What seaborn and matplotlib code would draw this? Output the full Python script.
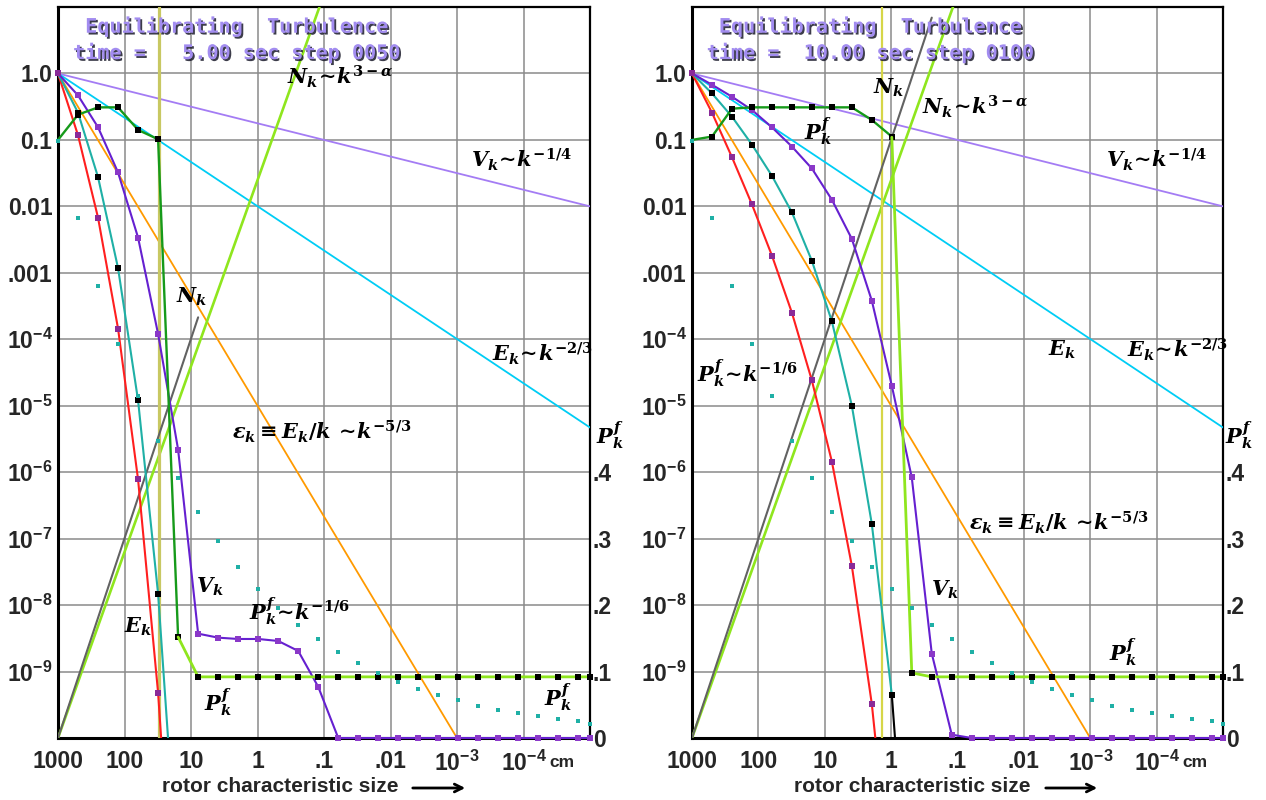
import numpy as np
import matplotlib
matplotlib.use("Agg")
import matplotlib.pyplot as plt
import matplotlib.patheffects as pe
import seaborn as sns

sns.set_style("white")
plt.rcParams["font.family"] = ["Liberation Sans", "DejaVu Sans"]
plt.rcParams["mathtext.fontset"] = "custom"
plt.rcParams["mathtext.it"] = "DejaVu Serif:italic:bold"
plt.rcParams["mathtext.rm"] = "DejaVu Serif:bold"
plt.rcParams["mathtext.bf"] = "Liberation Sans:bold"

# ---------------- data ----------------
# rotor sizes (cm): halving each step, last entry is the right edge (1e-5 cm)
sizes = [1000, 500, 250, 125, 62.5, 31.25, 15.625, 7.8125, 3.906, 1.953,
         0.9766, 0.4883, 0.2441, 0.1221, 0.06104, 0.03052, 0.01526, 0.00763,
         0.003815, 0.001907, 0.000954, 0.000477, 0.000238, 0.000119,
         5.96e-5, 2.98e-5, 1.49e-5, 1e-5]

# P_k^f ~ k^-1/6 dots (right linear axis), same in both frames
pdots_lin = [0.898, 0.783, 0.680, 0.593, 0.515, 0.447, 0.391, 0.340, 0.296,
             0.257, 0.224, 0.196, 0.170, 0.149, 0.129, 0.113, 0.098, 0.084,
             0.074, 0.065, 0.057, 0.048, 0.042, 0.038, 0.033, 0.029, 0.026,
             0.021]

# ---- frame 1 : t = 5 s, step 50 (log10 of values on the left axis) ----
E5_log = [0, -0.93, -2.17, -3.84, -6.11, -9.32, -13.8]
T5_log = [0, -0.59, -1.56, -2.93, -4.92, -7.83, -12.2]
V5_log = [0, -0.33, -0.81, -1.49, -2.47, -3.92, -5.66, -8.43, -8.49, -8.51,
          -8.51, -8.54, -8.69, -9.23, -10, -10, -10, -10, -10, -10, -10, -10,
          -10, -10, -10, -10, -10, -10]
G5_log = [-1.0, -0.62, -0.51, -0.51, -0.85, -0.99, -8.48]
L5_lin = [0.152, 0.092, 0.092, 0.092, 0.092, 0.092, 0.092, 0.092, 0.092,
          0.092, 0.092, 0.092, 0.092, 0.092, 0.092, 0.092, 0.092, 0.092,
          0.092, 0.092, 0.092, 0.092]
L5_start = 6
N5_x = [1000, 7.8125]
N5_log = [-10, -3.67]
vline5 = 30.2

# ---- frame 2 : t = 10 s, step 100 ----
E10_log = [0, -0.59, -1.26, -1.97, -2.74, -3.60, -4.62, -5.84, -7.41, -9.49,
           -12.4]
T10_log = [0, -0.30, -0.65, -1.07, -1.54, -2.09, -2.82, -3.73, -5.0, -6.78,
           -9.35, -13.4]
V10_log = [0, -0.17, -0.35, -0.55, -0.81, -1.10, -1.43, -1.90, -2.49, -3.42,
           -4.70, -6.08, -8.73, -9.95, -10, -10, -10, -10, -10, -10, -10, -10,
           -10, -10, -10, -10, -10, -10]
G10_log = [-1.0, -0.95, -0.53, -0.51, -0.51, -0.51, -0.51, -0.51, -0.51,
           -0.70, -0.95]
L10_lin = [0.904, 0.098, 0.092, 0.092, 0.092, 0.092, 0.092, 0.092, 0.092,
           0.092, 0.092, 0.092, 0.092, 0.092, 0.092, 0.092, 0.092, 0.092]
L10_start = 10
N10_x = [1000, 0.2441]
N10_log = [-10, 0.84]
vline10 = 1.38

# reference power laws (end points)
Vref_x, Vref_y = [1000, 1e-5], [1.0, 0.01]          # V_k ~ k^-1/4
Eref_x, Eref_y = [1000, 1e-5], [1.0, 4.7e-6]        # E_k ~ k^-2/3
eref_x, eref_y = [1000, 1e-3], [1.0, 1e-10]         # eps_k ~ k^-5/3
Nref_x, Nref_y = [1000, 0.117], [1e-10, 10.0]       # N_k ~ k^(3-alpha)

xtick_vals = [1000, 100, 10, 1, 0.1, 0.01, 1e-3, 1e-4, 1e-5]
xtick_labels = ["1000", "100", "10", "1", ".1", ".01",
                r"$\mathbf{10^{-3}}$", r"$\mathbf{10^{-4}}$", ""]
ytick_vals = [10, 1, 0.1, 0.01, 1e-3, 1e-4, 1e-5, 1e-6, 1e-7, 1e-8, 1e-9, 1e-10]
ytick_labels = ["", "1.0", "0.1", "0.01", ".001", r"$\mathbf{10^{-4}}$",
                r"$\mathbf{10^{-5}}$", r"$\mathbf{10^{-6}}$", r"$\mathbf{10^{-7}}$",
                r"$\mathbf{10^{-8}}$", r"$\mathbf{10^{-9}}$", ""]
rtick_vals = [0, 0.1, 0.2, 0.3, 0.4]
rtick_labels = ["0", ".1", ".2", ".3", ".4"]

# colours
C_RED = "#ff1f1f"
C_TEAL = "#1fb0a6"
C_VIO = "#6520d0"
C_DKG = "#169a1a"
C_LIME = "#8fe61e"
C_GRAY = "#626262"
C_VREF = "#a47cf4"
C_EREF = "#00cdf5"
C_EPS = "#ff9a00"
C_MPURP = "#8a2a98"
C_MVIO = "#8a38c8"

PK = r"$P_k^f$"

labels5 = [
    (r"$N_k\!\sim\!k^{3-\alpha}$", 0.430, 0.905),
    (r"$V_k\!\sim\!k^{-1/4}$", 0.776, 0.791),
    (r"$E_k\!\sim\!k^{-2/3}$", 0.816, 0.526),
    (r"$\varepsilon_k\equiv E_k/k\,\sim\!k^{-5/3}$", 0.327, 0.419),
    (r"$N_k$", 0.222, 0.604),
    (r"$V_k$", 0.259, 0.207),
    (r"$E_k$", 0.124, 0.152),
    (r"$P_k^f\!\sim\!k^{-1/6}$", 0.359, 0.174),
    (PK, 0.274, 0.049),
    (PK, 0.913, 0.056),
    (PK, 1.012, 0.414),
]
labels10 = [
    (r"$N_k$", 0.341, 0.889),
    (r"$N_k\!\sim\!k^{3-\alpha}$", 0.433, 0.863),
    (PK, 0.211, 0.830),
    (r"$V_k\!\sim\!k^{-1/4}$", 0.780, 0.791),
    (r"$E_k$", 0.670, 0.531),
    (r"$E_k\!\sim\!k^{-2/3}$", 0.819, 0.531),
    (r"$P_k^f\!\sim\!k^{-1/6}$", 0.009, 0.499),
    (r"$\varepsilon_k\equiv E_k/k\,\sim\!k^{-5/3}$", 0.522, 0.294),
    (r"$V_k$", 0.450, 0.202),
    (PK, 0.785, 0.118),
    (PK, 1.004, 0.414),
]

fig = plt.figure(figsize=(12.66, 8.0), dpi=100)
ax1 = fig.add_axes([58 / 1266, 62 / 800, 532 / 1266, 731 / 800])
ax2 = fig.add_axes([692 / 1266, 62 / 800, 531 / 1266, 731 / 800])

TICKFONT = dict(fontsize=16.5, fontweight="bold", family=["Liberation Sans", "DejaVu Sans"])


def in_range(xs, ys):
    pts = [(x, y) for x, y in zip(xs, ys) if y >= 1e-10]
    return [p[0] for p in pts], [p[1] for p in pts]


def draw_panel(ax, E_log, T_log, V_log, G_log, L_lin, l_start, N_x, N_log,
               vx, vcol, vlw, title, labels, black_tail, green_on_top):
    ax.set_xscale("log")
    ax.set_yscale("log")
    tw = ax.twinx()

    # reference lines
    sns.lineplot(x=Vref_x, y=Vref_y, ax=ax, color=C_VREF, lw=1.3, sort=False, estimator=None, zorder=3)
    sns.lineplot(x=Eref_x, y=Eref_y, ax=ax, color=C_EREF, lw=1.3, sort=False, estimator=None, zorder=3)
    sns.lineplot(x=eref_x, y=eref_y, ax=ax, color=C_EPS, lw=1.3, sort=False, estimator=None, zorder=3)
    sns.lineplot(x=Nref_x, y=Nref_y, ax=ax, color=C_LIME, lw=1.9, sort=False, estimator=None, zorder=3)
    ax.axvline(vx, color=vcol, lw=vlw, zorder=3.5)
    sns.lineplot(x=N_x, y=[10 ** v for v in N_log], ax=ax, color=C_GRAY, lw=1.5,
                 sort=False, estimator=None, zorder=4)

    # E_k (red)
    xs = sizes[:len(E_log)]
    ys = [10 ** v for v in E_log]
    sns.lineplot(x=xs, y=ys, ax=ax, color=C_RED, lw=1.5, sort=False, estimator=None, zorder=5)
    mx, my = in_range(xs, ys)
    sns.scatterplot(x=mx, y=my, ax=ax, color=C_MPURP, marker="s", s=22, linewidth=0,
                    clip_on=False, zorder=6)

    # teal spectrum with black squares
    xs = sizes[:len(T_log)]
    ys = [10 ** v for v in T_log]
    if black_tail:
        sns.lineplot(x=xs[:-1], y=ys[:-1], ax=ax, color=C_TEAL, lw=1.5, sort=False, estimator=None, zorder=5)
        sns.lineplot(x=xs[-2:], y=ys[-2:], ax=ax, color="black", lw=1.5, sort=False, estimator=None, zorder=5)
    else:
        sns.lineplot(x=xs, y=ys, ax=ax, color=C_TEAL, lw=1.5, sort=False, estimator=None, zorder=5)
    mx, my = in_range(xs[1:], ys[1:])
    sns.scatterplot(x=mx, y=my, ax=ax, color="black", marker="s", s=22, linewidth=0,
                    clip_on=False, zorder=6)

    # V_k (violet)
    xs = sizes[:len(V_log)]
    ys = [10 ** v for v in V_log]
    sns.lineplot(x=xs, y=ys, ax=ax, color=C_VIO, lw=1.5, sort=False, estimator=None,
                 marker="s", markersize=4.2, markerfacecolor=C_MVIO, markeredgewidth=0,
                 clip_on=False, zorder=5)

    # P_k^f dark green (log part)
    xs = sizes[:len(G_log)]
    ys = [10 ** v for v in G_log]
    sns.lineplot(x=xs, y=ys, ax=ax, color=C_DKG, lw=1.7, sort=False, estimator=None,
                 marker="s", markersize=4.5, markerfacecolor="black", markeredgewidth=0,
                 markevery=list(range(1, len(xs))), clip_on=False,
                 zorder=7 if green_on_top else 5)

    # right linear axis: P_k^f tail (lime) and dots
    tw.set_ylim(0, 1.1)
    xs = sizes[l_start:l_start + len(L_lin)]
    sns.lineplot(x=xs, y=L_lin, ax=tw, color=C_LIME, lw=2.0, sort=False, estimator=None,
                 marker="s", markersize=4.5, markerfacecolor="black", markeredgewidth=0,
                 markevery=list(range(1, len(xs))), clip_on=False, zorder=4)
    sns.scatterplot(x=sizes, y=pdots_lin, ax=tw, color=C_TEAL, marker="s", s=9,
                    linewidth=0, clip_on=False, zorder=5)

    # axes cosmetics
    ax.set_xlim(1000, 1e-5)
    ax.set_ylim(1e-10, 10)
    tw.set_xlim(1000, 1e-5)
    ax.set_xticks(xtick_vals)
    ax.set_xticklabels(xtick_labels, **TICKFONT)
    ax.set_yticks(ytick_vals)
    ax.set_yticklabels(ytick_labels, **TICKFONT)
    ax.minorticks_off()
    ax.tick_params(axis="both", length=0)
    ax.tick_params(axis="x", pad=9)
    ax.tick_params(axis="y", pad=4)
    ax.grid(True, which="major", color="#8a8a8a", lw=1.1, zorder=0)
    ax.set_axisbelow(True)
    ax.set_xlabel("")
    ax.set_ylabel("")
    tw.set_ylabel("")
    tw.set_yticks(rtick_vals)
    tw.set_yticklabels(rtick_labels, **TICKFONT)
    tw.tick_params(axis="y", length=0, pad=2)
    tw.grid(False)
    for s in tw.spines.values():
        s.set_visible(False)
    for side in ["left", "bottom"]:
        ax.spines[side].set_linewidth(2.2)
        ax.spines[side].set_color("black")
    for side in ["top", "right"]:
        ax.spines[side].set_linewidth(1.6)
        ax.spines[side].set_color("black")

    # "cm" unit next to last label
    tw.text(0.948, -0.034, "cm", transform=tw.transAxes, ha="center", va="center",
            fontsize=12.5, fontweight="bold")

    # title
    shadow = [pe.withSimplePatchShadow(offset=(1.3, -1.3), shadow_rgbFace="#1a1a2a", alpha=0.85)]
    for line, yy in zip(title, [0.973, 0.937]):
        tw.text(0.336, yy, line, transform=tw.transAxes, ha="center", va="center",
                fontsize=14.5, fontweight="bold", family="DejaVu Sans Mono",
                color="#a28cf0", path_effects=shadow, zorder=10)

    for txt, x, y in labels:
        tw.text(x, y, txt, transform=tw.transAxes, ha="left", va="center",
                fontsize=15, color="black", zorder=10)


draw_panel(ax1, E5_log, T5_log, V5_log, G5_log, L5_lin, L5_start, N5_x, N5_log,
           vline5, "#c8c862", 2.3,
           ["Equilibrating  Turbulence", "time =   5.00 sec step 0050"],
           labels5, black_tail=False, green_on_top=True)
draw_panel(ax2, E10_log, T10_log, V10_log, G10_log, L10_lin, L10_start, N10_x, N10_log,
           vline10, "#d6d648", 1.6,
           ["Equilibrating  Turbulence", "time =  10.00 sec step 0100"],
           labels10, black_tail=True, green_on_top=False)

XL = dict(fontsize=15, fontweight="bold", family=["Liberation Sans", "DejaVu Sans"],
          ha="center", va="center")
for tx, a0, a1 in [(280, 410, 468), (912, 1043, 1100)]:
    fig.text(tx / 1266, 1 - 787 / 800, "rotor characteristic size", **XL)
    fig.add_artist(matplotlib.patches.FancyArrowPatch(
        (a0 / 1266, 1 - 788 / 800), (a1 / 1266, 1 - 788 / 800),
        transform=fig.transFigure, arrowstyle="->", mutation_scale=14,
        lw=2.0, color="black"))

fig.savefig("out.png", dpi=100, facecolor="white")
